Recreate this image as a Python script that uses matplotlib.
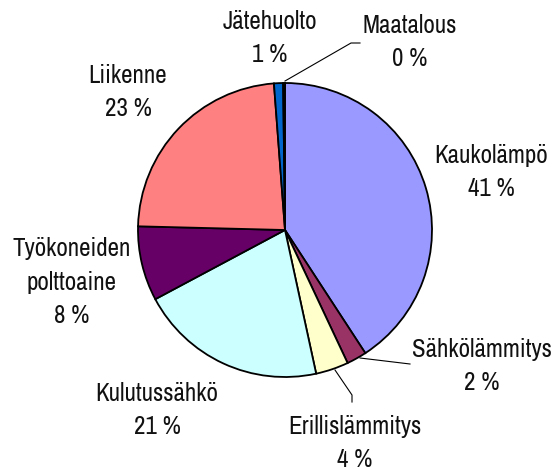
import matplotlib
matplotlib.use("Agg")
import matplotlib.pyplot as plt

plt.rcParams["font.family"] = ["Archivo Narrow", "DejaVu Sans"]

categories = ["Kaukolämpö", "Sähkölämmitys", "Erillislämmitys", "Kulutussähkö",
              "Työkoneiden\npolttoaine", "Liikenne", "Jätehuolto", "Maatalous"]
values = [40.8, 2.2, 3.6, 20.6, 8.2, 23.4, 1.0, 0.2]
colors = ["#9999FF", "#993366", "#FFFFCC", "#CCFFFF", "#660066", "#FF8080", "#0066CC", "#CCCCFF"]

W, H = 553, 470
fig = plt.figure(figsize=(W / 100, H / 100), dpi=100)
ax = fig.add_axes([0, 0, 1, 1])

cx, cy, r = 285, H - 230, 147
ax.pie(values, colors=colors, startangle=90, counterclock=False,
       center=(cx, cy), radius=r, frame=True,
       wedgeprops=dict(edgecolor="black", linewidth=1.3))
ax.set_xlim(0, W)
ax.set_ylim(0, H)
ax.set_aspect("equal")
ax.axis("off")

# label block centres (pixel coords, top-origin)
label_pos = [(491, 172), (482, 366), (355, 443), (157, 410),
             (72, 282), (128, 92), (270, 38), (410, 42)]
for cat, v, (x, y) in zip(categories, values, label_pos):
    ax.text(x, H - y, f"{cat}\n{round(v):d} %", ha="center", va="center",
            fontsize=18, linespacing=1.55, color="#111111")

# leader lines
def line(pts):
    ax.plot([p[0] for p in pts], [H - p[1] for p in pts], color="black", lw=0.8)

line([(285, 81), (351, 43), (360, 43)])
line([(360, 358), (410, 364)])
line([(335, 370), (352, 395), (352, 402)])

fig.savefig("out.png", dpi=100)
